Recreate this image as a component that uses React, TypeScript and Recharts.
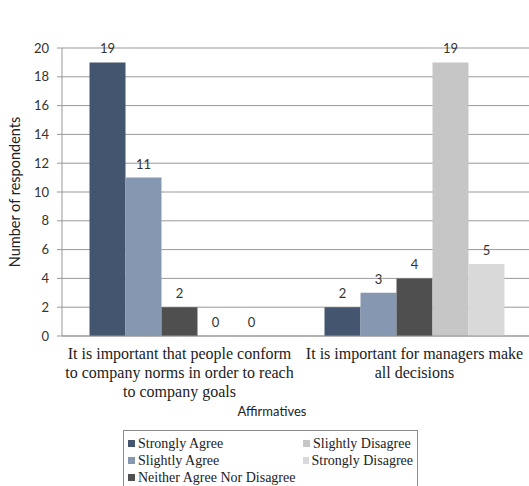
import { BarChart, Bar, XAxis, YAxis, CartesianGrid, Legend, LabelList } from "recharts";

const categoryLines = [
  ["It is important that people conform", "to company norms in order to reach", "to company goals"],
  ["It is important for managers make", "all decisions"],
];
const categories = categoryLines.map((l) => l.join(" "));

const stronglyAgree = [19, 2];
const slightlyAgree = [11, 3];
const neitherAgreeNorDisagree = [2, 4];
const slightlyDisagree = [0, 19];
const stronglyDisagree = [0, 5];

const yTicks = [0, 2, 4, 6, 8, 10, 12, 14, 16, 18, 20];

const series = [
  { key: "sa", name: "Strongly Agree", values: stronglyAgree, color: "#44556f" },
  { key: "sla", name: "Slightly Agree", values: slightlyAgree, color: "#8698b1" },
  { key: "n", name: "Neither Agree Nor Disagree", values: neitherAgreeNorDisagree, color: "#4f4f4f" },
  { key: "sld", name: "Slightly Disagree", values: slightlyDisagree, color: "#c6c6c6" },
  { key: "sd", name: "Strongly Disagree", values: stronglyDisagree, color: "#d9d9d9" },
];

const data = categories.map((name, i) => {
  const row: Record<string, string | number> = { name };
  series.forEach((s) => (row[s.key] = s.values[i]));
  return row;
});

const sans = "Lato, 'Open Sans', sans-serif";
const serif = "'Liberation Serif', 'DejaVu Serif', serif";

const CategoryTick = ({ x, y, payload }: any) => {
  const lines = categoryLines[payload.index] || [payload.value];
  return (
    <text x={x} y={y} textAnchor="middle" fontFamily={serif} fontSize={16} fill="#222">
      {lines.map((l, i) => (
        <tspan key={i} x={x} dy={i === 0 ? 14.5 : 19}>
          {l}
        </tspan>
      ))}
    </text>
  );
};

// value label drawn for every bar, zeros included
const ValueLabel = ({ x, y, width, value }: any) => (
  <text
    x={Number(x) + Number(width) / 2}
    y={Number(y) - 9}
    textAnchor="middle"
    fontFamily={sans}
    fontSize={13}
    fill="#333"
  >
    {value}
  </text>
);

// legend is column-major: 3 rows, 2 columns
const LegendBox = () => (
  <div
    style={{
      border: "1px solid #8a8a8a",
      display: "grid",
      gridTemplateRows: "repeat(3, 17px)",
      gridAutoFlow: "column",
      gridTemplateColumns: "175px 110px",
      padding: "4px 0 4px 4px",
      fontFamily: serif,
      fontSize: 14,
      color: "#222",
      background: "#fff",
    }}
  >
    {series.map((s) => (
      <div key={s.key} style={{ display: "flex", alignItems: "center", whiteSpace: "nowrap" }}>
        <span style={{ width: 7, height: 7, background: s.color, marginRight: 3, display: "inline-block" }} />
        {s.name}
      </div>
    ))}
  </div>
);

export default function App() {
  return (
    <div style={{ position: "absolute", left: 0, top: 0, width: 529, height: 486, overflow: "hidden", background: "#fff" }}>
      <BarChart
        width={540}
        height={486}
        data={data}
        margin={{ top: 48, right: 8, bottom: 68, left: 0 }}
        barGap={0}
        barCategoryGap="11.7%"
      >
        <CartesianGrid vertical={false} stroke="#999" />
        <XAxis
          dataKey="name"
          stroke="#999"
          tickLine={false}
          interval={0}
          height={82}
          tick={<CategoryTick />}
          label={{
            value: "Affirmatives",
            position: "insideBottom",
            offset: 2,
            dx: -25,
            style: { fontFamily: sans, fontSize: 13, fill: "#222" },
          }}
        />
        <YAxis
          width={62}
          domain={[0, 20]}
          ticks={yTicks}
          stroke="#999"
          tickSize={5}
          tickMargin={8}
          tick={{ fontFamily: sans, fontSize: 13, fill: "#333" }}
          label={{
            value: "Number of respondents",
            angle: -90,
            position: "insideLeft",
            offset: 15,
            style: { textAnchor: "middle", fontFamily: sans, fontSize: 14.5, fill: "#222" },
          }}
        />
        <Legend
          layout="horizontal"
          verticalAlign="middle"
          align="center"
          content={<LegendBox />}
          wrapperStyle={{ top: 430, left: 123, width: 295 }}
        />
        {series.map((s) => (
          <Bar
            key={s.key}
            dataKey={s.key}
            name={s.name}
            fill={s.color}
            minPointSize={0.01}
            isAnimationActive={false}
          >
            <LabelList dataKey={s.key} content={<ValueLabel />} />
          </Bar>
        ))}
      </BarChart>
    </div>
  );
}
